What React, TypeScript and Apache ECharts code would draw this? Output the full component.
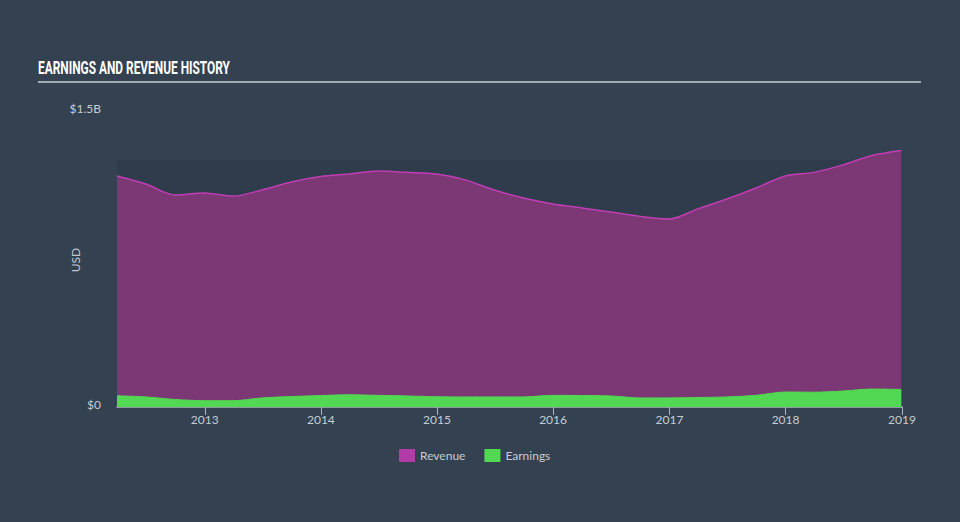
import React, { useEffect, useRef } from "react";
import * as echarts from "echarts";

const dates = [
  "2012-03-31", "2012-06-30", "2012-09-30", "2012-12-31",
  "2013-03-31", "2013-06-30", "2013-09-30", "2013-12-31",
  "2014-03-31", "2014-06-30", "2014-09-30", "2014-12-31",
  "2015-03-31", "2015-06-30", "2015-09-30", "2015-12-31",
  "2016-03-31", "2016-06-30", "2016-09-30", "2016-12-31",
  "2017-03-31", "2017-06-30", "2017-09-30", "2017-12-31",
  "2018-03-31", "2018-06-30", "2018-09-30", "2018-12-31",
];

const revenue = [
  1.171, 1.13, 1.074, 1.085, 1.069, 1.1, 1.14, 1.168,
  1.181, 1.196, 1.189, 1.181, 1.151, 1.1, 1.059, 1.029,
  1.009, 0.988, 0.966, 0.953, 1.004, 1.054, 1.11, 1.171,
  1.189, 1.227, 1.275, 1.3,
];

const earnings = [
  0.057, 0.051, 0.038, 0.032, 0.032, 0.046, 0.053, 0.058,
  0.062, 0.059, 0.056, 0.052, 0.051, 0.051, 0.051, 0.059,
  0.058, 0.056, 0.046, 0.046, 0.048, 0.051, 0.059, 0.076,
  0.075, 0.081, 0.091, 0.089,
];

const yTicks = [0, 1.5e9];
const B = 1e9;
const TITLE = "EARNINGS AND REVENUE HISTORY";

export default function App() {
  const ref = useRef<HTMLDivElement>(null);
  useEffect(() => {
    if (!ref.current) return;
    const chart = echarts.init(ref.current, undefined, { renderer: "svg" });
    const font = "Lato";
    const year = 365.25 * 24 * 3600 * 1000;
    const titleFont = "bold 18px Roboto";
    let titleScale = 0.6;
    try {
      const ctx = document.createElement("canvas").getContext("2d");
      if (ctx) {
        ctx.font = titleFont;
        const w = ctx.measureText(TITLE).width;
        if (w > 0) titleScale = 192 / w;
      }
    } catch (e) {}
    chart.setOption({
      animation: false,
      backgroundColor: "#334151",
      textStyle: { fontFamily: font },
      graphic: [
        {
          type: "text",
          x: 38,
          y: 68,
          scaleX: titleScale,
          style: {
            text: TITLE,
            fill: "#ffffff",
            font: titleFont,
            verticalAlign: "middle",
          },
        },
        {
          type: "line",
          shape: { x1: 38, y1: 82, x2: 921, y2: 82 },
          style: { stroke: "#a3abb5", lineWidth: 2 },
        },
        {
          type: "rect",
          shape: { x: 117, y: 160, width: 785, height: 247 },
          style: { fill: "#2e3c4b" },
          z: -1,
        },
        {
          type: "text",
          x: 75,
          y: 260,
          rotation: Math.PI / 2,
          style: {
            text: "USD",
            fill: "#c3c8cf",
            font: `12px ${font}`,
            align: "center",
            verticalAlign: "middle",
          },
        },
      ],
      legend: {
        bottom: 55,
        left: 394,
        itemWidth: 16,
        itemHeight: 13,
        itemGap: 19,
        icon: "rect",
        textStyle: { color: "#c8ccd2", fontSize: 12, fontFamily: font },
        data: [
          { name: "Revenue", itemStyle: { color: "#b33ba8" } },
          { name: "Earnings", itemStyle: { color: "#52d852" } },
        ],
      },
      grid: { left: 117, right: 58, top: 111, bottom: 115 },
      xAxis: {
        type: "time",
        min: "2012-03-31",
        max: "2019-01-02",
        minInterval: year * 0.99,
        maxInterval: year * 1.01,
        axisLine: { lineStyle: { color: "#aeb4bd", width: 1.5 } },
        axisTick: { show: true, length: 8, lineStyle: { color: "#aeb4bd" } },
        axisLabel: {
          color: "#c8ccd2",
          fontSize: 12,
          margin: 6,
          formatter: "{yyyy}",
          hideOverlap: false,
          showMaxLabel: true,
        },
        splitLine: { show: false },
      },
      yAxis: {
        type: "value",
        min: yTicks[0],
        max: yTicks[1],
        interval: 1.5e9,
        axisLine: { show: false },
        axisTick: { show: false },
        splitLine: { show: false },
        axisLabel: {
          color: "#c8ccd2",
          fontSize: 12,
          margin: 16,
          verticalAlign: "bottom",
          lineHeight: 6,
          formatter: (v: number) => (v === 0 ? "$0" : "$" + v / B + "B"),
        },
      },
      series: [
        {
          name: "Revenue",
          type: "line",
          smooth: 0.3,
          symbol: "none",
          data: dates.map((d, i) => [d, revenue[i] * B]),
          lineStyle: { color: "#c03db4", width: 1.5 },
          itemStyle: { color: "#b33ba8" },
          areaStyle: { color: "#7b3874", opacity: 1 },
          z: 2,
        },
        {
          name: "Earnings",
          type: "line",
          smooth: 0.3,
          symbol: "none",
          data: dates.map((d, i) => [d, earnings[i] * B]),
          lineStyle: { color: "#52d852", width: 1 },
          itemStyle: { color: "#52d852" },
          areaStyle: { color: "#52d852", opacity: 1 },
          z: 3,
        },
      ],
    });
    return () => chart.dispose();
  }, []);
  return <div ref={ref} style={{ width: 960, height: 522, position: "absolute", left: 0, top: 0 }} />;
}
